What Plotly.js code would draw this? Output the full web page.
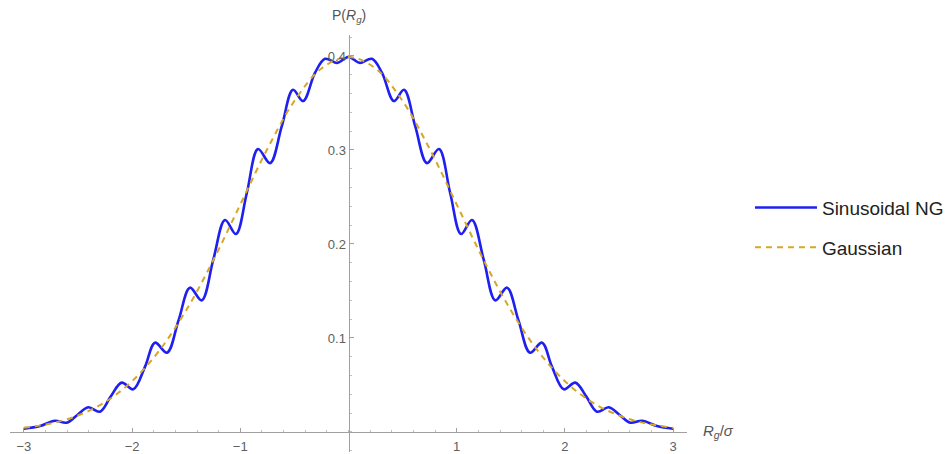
<!DOCTYPE html>
<html>
<head>
<meta charset="utf-8">
<script src="https://cdn.plot.ly/plotly-3.0.1.min.js"></script>
<style>html,body{margin:0;padding:0;background:#fff;}#chart{width:951px;height:454px;}</style>
</head>
<body>
<div id="chart"></div>
<script>
// Sinusoidal NG curve
var ngX = [-3.00, -2.85, -2.713, -2.604, -2.506, -2.405, -2.297, -2.198, -2.096, -1.989,
           -1.88, -1.788, -1.677, -1.57, -1.465, -1.357, -1.25, -1.141, -1.04, -0.94,
           -0.836, -0.725, -0.617, -0.513, -0.42, -0.31, -0.217, -0.106, -0.05, 0,
           0.05, 0.106, 0.217, 0.31, 0.42, 0.513, 0.617, 0.725, 0.836, 0.94,
           1.04, 1.141, 1.25, 1.357, 1.465, 1.57, 1.677, 1.788, 1.88, 1.989,
           2.096, 2.198, 2.297, 2.405, 2.506, 2.604, 2.713, 2.85, 3.00];
var ngY = [0.0035, 0.0064, 0.0120, 0.0099, 0.0181, 0.0263, 0.0216, 0.0376, 0.0525, 0.0454,
           0.0695, 0.0950, 0.0844, 0.119, 0.1535, 0.1400, 0.183, 0.2255, 0.2106, 0.254,
           0.301, 0.286, 0.325, 0.364, 0.352, 0.382, 0.397, 0.3926, 0.396, 0.399,
           0.396, 0.3926, 0.397, 0.382, 0.352, 0.364, 0.325, 0.286, 0.301, 0.254,
           0.2106, 0.2255, 0.183, 0.1400, 0.1535, 0.119, 0.0844, 0.0950, 0.0695, 0.0454,
           0.0525, 0.0376, 0.0216, 0.0263, 0.0181, 0.0099, 0.0120, 0.0064, 0.0035];
// Gaussian curve
var gX = [-3, -2.75, -2.5, -2.25, -2, -1.75, -1.5, -1.25, -1, -0.75, -0.5, -0.25, 0,
          0.25, 0.5, 0.75, 1, 1.25, 1.5, 1.75, 2, 2.25, 2.5, 2.75, 3];
var gY = [0.0044, 0.0091, 0.0175, 0.0317, 0.054, 0.0863, 0.1295, 0.1826, 0.242, 0.3011, 0.3521, 0.3867, 0.3989,
          0.3867, 0.3521, 0.3011, 0.242, 0.1826, 0.1295, 0.0863, 0.054, 0.0317, 0.0175, 0.0091, 0.0044];
var xTicks = [-3, -2, -1, 1, 2, 3];
var yTicks = [0.1, 0.2, 0.3, 0.4];
var seriesNames = ["Sinusoidal NG", "Gaussian"];

var FONT = "Liberation Sans, Arial, sans-serif";
var traces = [
  {x: ngX, y: ngY, type: "scatter", mode: "lines", name: seriesNames[0], legendgroup: "a",
   line: {color: "#1f1ff0", width: 2.6, shape: "spline", smoothing: 1}},
  {x: gX, y: gY, type: "scatter", mode: "lines", name: seriesNames[1], legendgroup: "b",
   line: {color: "#d6a626", width: 2, dash: "6px,5px", shape: "spline", smoothing: 1}}
];
var axisCommon = {
  showgrid: false, zeroline: false, showline: true, linecolor: "#a0a0a0", linewidth: 1,
  ticks: "inside", ticklen: 4, tickcolor: "#a0a0a0", tickwidth: 1,
  tickfont: {family: FONT, size: 13, color: "#606060"}, fixedrange: true
};
var layout = {
  width: 951, height: 454,
  margin: {l: 10, r: 264, t: 35, b: 2},
  paper_bgcolor: "#ffffff", plot_bgcolor: "#ffffff",
  xaxis: Object.assign({}, axisCommon, {
    range: [-3.128, 3.128], anchor: "free", position: 0.048,
    tickvals: xTicks, ticklabelstandoff: 2,
    minor: {dtick: 0.2, tick0: 0, ticks: "inside", ticklen: 2, tickcolor: "#c0c0c0"}
  }),
  yaxis: Object.assign({}, axisCommon, {
    range: [-0.0213, 0.4223], anchor: "free", position: 0.5,
    tickvals: yTicks,
    minor: {dtick: 0.02, tick0: 0, ticks: "inside", ticklen: 2, tickcolor: "#c0c0c0"}
  }),
  showlegend: true,
  legend: {x: 1.093, xanchor: "left", y: 0.538, yanchor: "middle",
           font: {family: FONT, size: 19, color: "#222"}, itemwidth: 62,
           traceorder: "grouped", tracegroupgap: 12, bgcolor: "rgba(0,0,0,0)"},
  annotations: [
    {xref: "paper", yref: "paper", x: 0.5, y: 1.0456, text: "P(<i>R</i><sub><i>g</i></sub>)",
     showarrow: false, xanchor: "center", yanchor: "middle",
     font: {family: FONT, size: 14, color: "#555"}},
    {xref: "paper", yref: "paper", x: 1.0458, y: 0.048, text: "<i>R</i><sub><i>g</i></sub>/<i>σ</i>",
     showarrow: false, xanchor: "center", yanchor: "middle",
     font: {family: FONT, size: 15, color: "#555"}}
  ]
};
Plotly.newPlot("chart", traces, layout, {displayModeBar: false, staticPlot: true});
</script>
</body>
</html>
